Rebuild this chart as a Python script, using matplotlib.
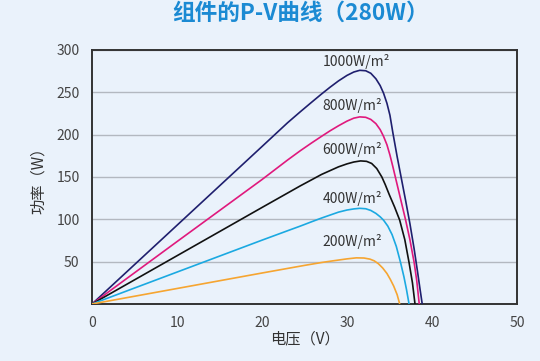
import matplotlib
matplotlib.use("Agg")
import matplotlib.pyplot as plt

plt.rcParams["font.family"] = ["Noto Sans CJK SC", "DejaVu Sans"]

# P-V curves (voltage V, power W)
v_1000 = [0, 10, 20, 23, 24.5, 25.8, 27, 28, 29, 30, 30.8, 31.5, 32.2, 32.8, 33.4,
          33.9, 34.3, 34.7, 35.05, 35.4, 35.9, 36.4, 36.9, 37.4, 37.9, 38.3, 38.6, 38.85]
p_1000 = [0, 93, 186, 214, 227, 238, 248, 256, 263.5, 270, 274, 276, 275.5, 272.5, 266,
          258, 249, 237, 223, 202, 174, 148, 122, 95, 65, 38, 17, 0]
v_800 = [0, 10, 20, 23, 24.5, 25.8, 27, 28, 29, 30, 30.8, 31.5, 32.2, 32.8, 33.4,
         33.9, 34.3, 34.7, 35.05, 35.4, 35.9, 36.4, 36.9, 37.4, 37.9, 38.2, 38.5]
p_800 = [0, 73.7, 147, 170, 181, 190, 198, 204.5, 210.5, 216, 219.5, 221, 220.5, 218, 213,
         206, 198, 188, 176, 162, 141, 120, 99, 76, 49, 28, 0]
v_600 = [0, 10, 20, 23, 24.5, 25.8, 27, 28, 29, 30, 30.8, 31.6, 32.3, 32.9, 33.5,
         34.1, 34.5, 35.0, 35.6, 36.2, 36.8, 37.3, 37.7, 38.0]
p_600 = [0, 57, 114, 131, 139.5, 146.5, 153, 157.5, 162, 165.5, 167.7, 169, 168.5, 166, 160,
         150, 141, 128.5, 114.5, 99, 76, 49, 25, 0]
v_400 = [0, 10, 20, 23, 24.5, 25.8, 27, 28, 29, 30, 30.8, 31.5, 32.2, 32.8, 33.4,
         33.9, 34.3, 34.8, 35.3, 35.8, 36.3, 36.7, 37.0, 37.3]
p_400 = [0, 37.7, 75.4, 86.5, 92, 97, 101.5, 105, 108.5, 111, 112.3, 113, 112.5, 110.5, 107,
         103, 99, 92, 82, 68, 49, 32, 17, 0]
v_200 = [0, 10, 20, 23, 25, 27, 28.5, 30, 31.1, 32, 32.7, 33.2, 33.7, 34.2, 34.7,
         35.1, 35.5, 35.9, 36.2]
p_200 = [0, 18.3, 36.6, 42, 45.6, 49, 51.2, 53.3, 54.5, 54.3, 53, 51, 47.5, 42.5, 36,
         29, 21, 11, 0]

labels = ["1000W/m²", "800W/m²", "600W/m²", "400W/m²", "200W/m²"]
label_y = [287, 235, 183, 125, 74]
colors = ["#1f1f6e", "#e0197d", "#111111", "#1ba9e1", "#f6a531"]

bg = "#eaf2fb"
fig = plt.figure(figsize=(5.4, 3.61), dpi=100, facecolor=bg)
ax = fig.add_axes([0.1704, 0.1579, 0.787, 0.7036], facecolor=bg)

series = [(v_1000, p_1000), (v_800, p_800), (v_600, p_600), (v_400, p_400), (v_200, p_200)]
for (v, p), c in zip(series, colors):
    ax.plot(v, p, color=c, linewidth=1.2, zorder=3, solid_joinstyle="round")

for lab, y in zip(labels, label_y):
    ax.text(27.1, y, lab, ha="left", va="center", fontsize=10, color="#333333")

ax.set_xlim(0, 50)
ax.set_ylim(0, 300)
ax.set_xticks([0, 10, 20, 30, 40, 50])
ax.set_yticks([0, 50, 100, 150, 200, 250, 300])
ax.set_yticklabels(["", "50", "100", "150", "200", "250", "300"])
ax.tick_params(length=0, labelsize=10, labelcolor="#444444", pad=9)
ax.grid(True, axis="y", color="#b3b8c0", linewidth=1.0)
for s in ax.spines.values():
    s.set_color("#333333")
    s.set_linewidth(1.4)

ax.set_xlabel("电压（V）", fontsize=11, color="#333333", labelpad=0)
ax.set_ylabel("功率（W）", fontsize=11, color="#333333", labelpad=7)

fig.text(0.556, 0.962, "组件的P-V曲线（280W）", ha="center", va="center",
         fontsize=16.3, fontweight="bold", color="#1b8ad3")

fig.savefig("out.png", dpi=100, facecolor=bg)
